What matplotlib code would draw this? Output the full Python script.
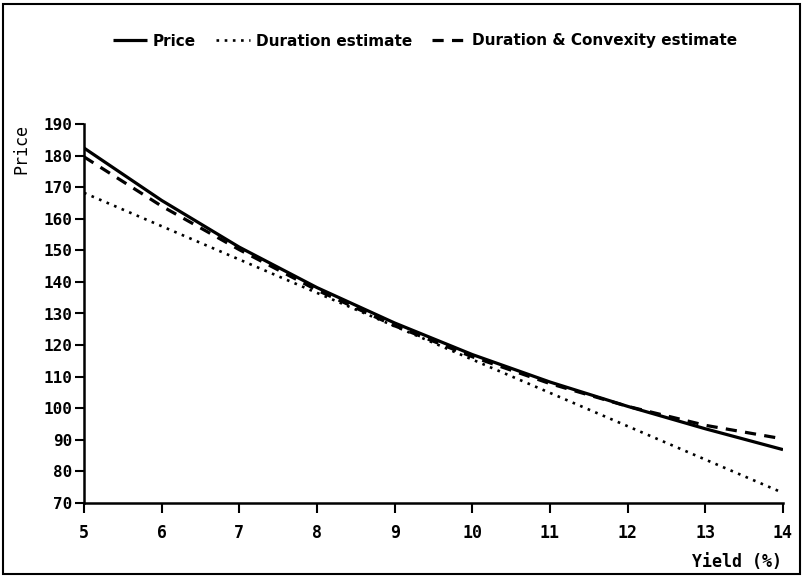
import matplotlib
matplotlib.use('Agg')
import matplotlib.pyplot as plt
from matplotlib.patches import Rectangle

# values
yields = [5, 6, 7, 8, 9, 10, 11, 12, 13, 14]
price = [182.4, 165.8, 151.0, 138.2, 127.0, 117.0, 108.3, 100.6, 93.5, 86.9]
convexity_est = [179.6, 164.0, 150.2, 137.4, 126.1, 116.3, 107.8, 100.6, 94.6, 90.3]
# the duration estimate is a straight line: read its two ends
duration_x = [5, 14]
duration_est = [168.2, 73.2]

y_ticks = list(range(70, 191, 10))
x_ticks = list(range(5, 15))

mono = 'DejaVu Sans Mono'

fig = plt.figure(figsize=(8.02, 5.76), dpi=100)
ax = fig.add_axes([84 / 802, 1 - 503 / 576, 699 / 802, 379 / 576])

ax.plot(yields, price, color='black', lw=2.3, label='Price',
        solid_capstyle='butt')
ax.plot(duration_x, duration_est, color='black', lw=1.9,
        dashes=(1, 2.1), label='Duration estimate')
ax.plot(yields, convexity_est, color='black', lw=2.3, dashes=(3.5, 2.6),
        label='Duration & Convexity estimate')

ax.set_xlim(5, 14)
ax.set_ylim(70, 190)
ax.set_xticks(x_ticks)
ax.set_yticks(y_ticks)
ax.set_xticklabels([str(v) for v in x_ticks], fontfamily=mono,
                   fontweight='bold', fontsize=12)
ax.set_yticklabels([str(v) for v in y_ticks], fontfamily=mono,
                   fontweight='bold', fontsize=11.5)
ax.tick_params(axis='x', direction='out', length=7, width=1.5, pad=8)
ax.tick_params(axis='y', direction='out', length=6.5, width=1.5, pad=2)
for side in ['top', 'right']:
    ax.spines[side].set_visible(False)
for side in ['left', 'bottom']:
    ax.spines[side].set_linewidth(1.8)

fig.text(21 / 802, 1 - 149 / 576, 'Price', rotation=90, ha='center',
         va='center', fontfamily=mono, fontsize=12)
fig.text(782 / 802, 1 - 562 / 576, 'Yield (%)', ha='right', va='center',
         fontfamily=mono, fontweight='bold', fontsize=12)

fig.legend(loc='center', bbox_to_anchor=(425 / 802, 1 - 41 / 576), ncol=3,
           frameon=False, handlelength=2.2, handletextpad=0.4,
           columnspacing=1.3, prop={'size': 11, 'weight': 'bold'})

# outer frame round the whole picture
fig.patches.append(Rectangle((0.004, 0.004), 0.993, 0.989,
                             transform=fig.transFigure, fill=False,
                             lw=1.5, color='black'))

fig.savefig('out.png', dpi=100)
